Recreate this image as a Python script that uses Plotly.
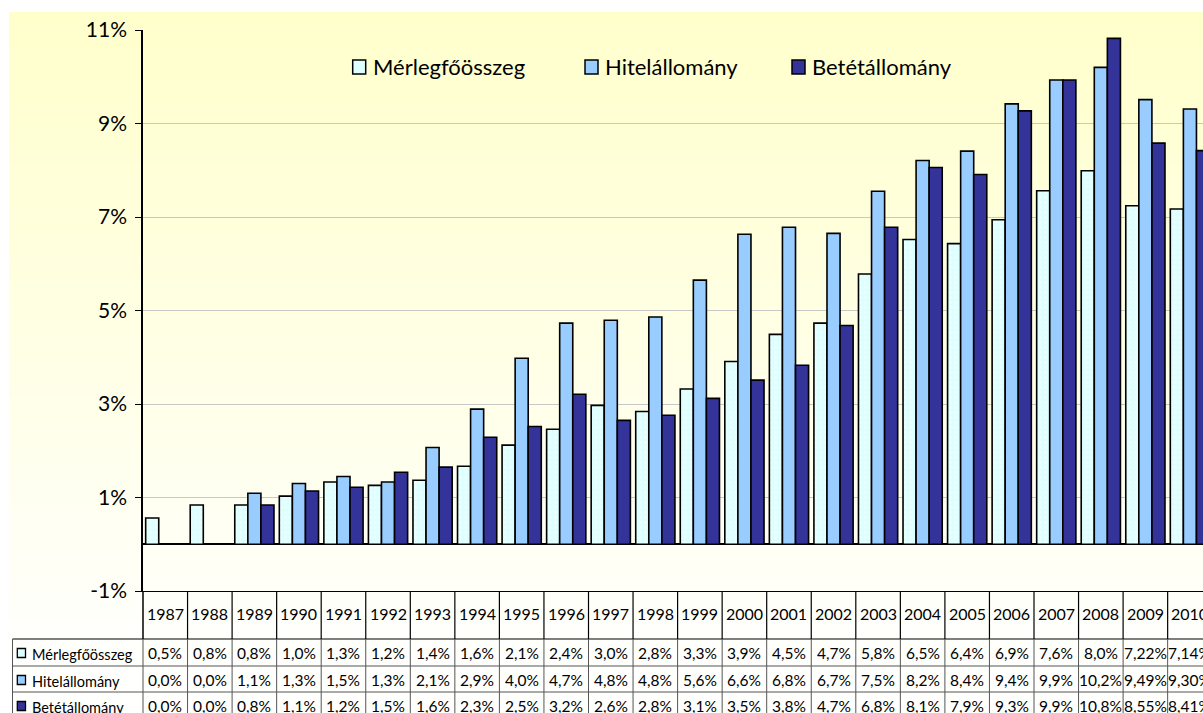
import plotly.graph_objects as go

# ---------------- data ----------------
years = [str(y) for y in range(1987, 2011)]
series_names = ["Mérlegfőösszeg", "Hitelállomány", "Betétállomány"]

merleg = [0.56, 0.84, 0.84, 1.03, 1.33, 1.26, 1.37, 1.67, 2.12, 2.46, 2.97, 2.84,
          3.32, 3.91, 4.49, 4.73, 5.78, 6.52, 6.43, 6.94, 7.56, 7.99, 7.24, 7.17]
hitel = [None, None, 1.09, 1.30, 1.45, 1.33, 2.07, 2.89, 3.98, 4.73, 4.79, 4.86,
         5.65, 6.63, 6.78, 6.65, 7.55, 8.21, 8.41, 9.42, 9.93, 10.20, 9.51, 9.31]
betet = [None, None, 0.84, 1.14, 1.22, 1.54, 1.65, 2.29, 2.52, 3.21, 2.65, 2.76,
         3.12, 3.51, 3.83, 4.68, 6.78, 8.06, 7.91, 9.27, 9.93, 10.82, 8.58, 8.42]

merleg_lbl = ["0,5%", "0,8%", "0,8%", "1,0%", "1,3%", "1,2%", "1,4%", "1,6%", "2,1%", "2,4%",
              "3,0%", "2,8%", "3,3%", "3,9%", "4,5%", "4,7%", "5,8%", "6,5%", "6,4%", "6,9%",
              "7,6%", "8,0%", "7,22%", "7,14%"]
hitel_lbl = ["0,0%", "0,0%", "1,1%", "1,3%", "1,5%", "1,3%", "2,1%", "2,9%", "4,0%", "4,7%",
             "4,8%", "4,8%", "5,6%", "6,6%", "6,8%", "6,7%", "7,5%", "8,2%", "8,4%", "9,4%",
             "9,9%", "10,2%", "9,49%", "9,30%"]
betet_lbl = ["0,0%", "0,0%", "0,8%", "1,1%", "1,2%", "1,5%", "1,6%", "2,3%", "2,5%", "3,2%",
             "2,6%", "2,8%", "3,1%", "3,5%", "3,8%", "4,7%", "6,8%", "8,1%", "7,9%", "9,3%",
             "9,9%", "10,8%", "8,55%", "8,41%"]

tick_vals = [-1, 1, 3, 5, 7, 9, 11]
tick_text = ["-1%", "1%", "3%", "5%", "7%", "9%", "11%"]

# ---------------- style ----------------
W, H = 1203, 713
L, R, T, B = 143, 0, 30, 122
PW, PH = W - L - R, H - T - B
FONT = "Lato, 'Noto Sans', sans-serif"
colors = ["#DDFFFF", "#99CCFF", "#333399"]


def px(p):
    return (p - L) / PW


def py(p):
    return (H - B - p) / PH


fig = go.Figure()
values = [merleg, hitel, betet]
for i, (name, vals) in enumerate(zip(series_names, values)):
    marker = dict(color=colors[i], line=dict(color="black", width=1.6))
    if i == 0:
        marker["pattern"] = dict(shape=".", fgcolor="white", bgcolor=colors[0],
                                 size=5, solidity=0.25)
    fig.add_trace(go.Bar(x=years, y=vals, name=name, marker=marker,
                         showlegend=False, hoverinfo="skip"))

shapes = []
annotations = []

# background gradient (chart area)
n_bands = 60
top_px, bot_px = 12, H
for k in range(n_bands):
    y0 = top_px + (bot_px - top_px) * k / n_bands
    y1 = top_px + (bot_px - top_px) * (k + 1) / n_bands + 0.5
    t = k / (n_bands - 1)
    b = int(round(204 + (253 - 204) * min(1.0, t * 1.08)))
    shapes.append(dict(type="rect", xref="paper", yref="paper", layer="below",
                       x0=px(9), x1=px(W + 2), y0=py(y1), y1=py(y0),
                       fillcolor=f"rgb(255,255,{b})", line=dict(width=0)))

# legend (top)
leg_x = [352.7, 585, 792]
for i, name in enumerate(series_names):
    shapes.append(dict(type="rect", xref="paper", yref="paper",
                       x0=px(leg_x[i]), x1=px(leg_x[i] + 13), y0=py(74), y1=py(60),
                       fillcolor=colors[i], line=dict(color="black", width=1.5)))
    annotations.append(dict(xref="paper", yref="paper", x=px(leg_x[i] + 18), y=py(67),
                            xanchor="left", yanchor="middle", showarrow=False,
                            text=name, font=dict(size=22, color="black", family=FONT)))

# axis extension / table borders
line_dark = dict(color="black", width=1.2)
line_grey = dict(color="#555555", width=1)
shapes.append(dict(type="line", xref="paper", yref="paper", x0=px(137), x1=1.01,
                   y0=py(591.5), y1=py(591.5), line=line_dark))
shapes.append(dict(type="line", xref="paper", yref="paper", x0=0, x1=0,
                   y0=py(591), y1=py(639), line=dict(color="black", width=1.5)))
shapes.append(dict(type="line", xref="paper", yref="paper", x0=px(12.5), x1=1.01,
                   y0=py(639), y1=py(639), line=line_dark))
for yy in (666, 692):
    shapes.append(dict(type="line", xref="paper", yref="paper", x0=px(12.5), x1=1.01,
                       y0=py(yy), y1=py(yy), line=line_grey))
shapes.append(dict(type="line", xref="paper", yref="paper", x0=px(12.5), x1=px(12.5),
                   y0=py(639), y1=py(H + 5), line=line_grey))
for k in range(len(years)):
    shapes.append(dict(type="line", xref="x", yref="paper", x0=k + 0.5, x1=k + 0.5,
                       y0=py(591.5), y1=py(639), line=line_dark))
    shapes.append(dict(type="line", xref="x", yref="paper", x0=k + 0.5, x1=k + 0.5,
                       y0=py(639), y1=py(H + 5), line=line_grey))
shapes.append(dict(type="line", xref="paper", yref="paper", x0=0, x1=0,
                   y0=py(639), y1=py(H + 5), line=line_grey))

# table: years row (category axis -> annotation x given as category index)
for k, yr in enumerate(years):
    annotations.append(dict(xref="x", yref="paper", x=k, y=py(613), showarrow=False,
                            xanchor="center", yanchor="middle", text=yr,
                            font=dict(size=16, color="black", family=FONT)))

# table: data rows
row_y = [653, 680, 706]
labels = [merleg_lbl, hitel_lbl, betet_lbl]
for r, (name, lbls) in enumerate(zip(series_names, labels)):
    shapes.append(dict(type="rect", xref="paper", yref="paper",
                       x0=px(17.3), x1=px(25.5), y0=py(row_y[r] + 4.5), y1=py(row_y[r] - 4.5),
                       fillcolor=colors[r], line=dict(color="black", width=1.3)))
    annotations.append(dict(xref="paper", yref="paper", x=px(30), y=py(row_y[r] + 1),
                            xanchor="left", yanchor="middle", showarrow=False, text=name,
                            font=dict(size=14.5, color="black", family=FONT)))
    for k, t in enumerate(lbls):
        annotations.append(dict(xref="x", yref="paper", x=k, y=py(row_y[r]),
                                xanchor="center", yanchor="middle", showarrow=False, text=t,
                                font=dict(size=15.5, color="black", family=FONT)))

fig.update_layout(
    width=W, height=H,
    margin=dict(l=L, r=R, t=T, b=B, pad=0),
    paper_bgcolor="white",
    plot_bgcolor="rgba(0,0,0,0)",
    barmode="group", bargap=0.12, bargroupgap=0,
    showlegend=False,
    shapes=shapes,
    annotations=annotations,
    font=dict(family=FONT, color="black"),
    xaxis=dict(type="category", range=[-0.5, -0.5 + PW / 44.55], showticklabels=False,
               showgrid=False, zeroline=False, showline=False, ticks=""),
    yaxis=dict(range=[-1, 11], tickvals=tick_vals, ticktext=tick_text,
               ticks="outside", ticklen=6, tickcolor="black", tickwidth=1.2,
               ticklabelstandoff=4,
               showline=True, linecolor="black", linewidth=1.5,
               showgrid=True, gridcolor="#C8C8C8", gridwidth=1,
               zeroline=True, zerolinecolor="black", zerolinewidth=1.5,
               tickfont=dict(size=21, color="black", family=FONT)),
)

fig.write_html("out.html",
               config={"displayModeBar": False},
               post_script="document.body.style.margin='0';"
                           "document.body.style.overflow='hidden';")
